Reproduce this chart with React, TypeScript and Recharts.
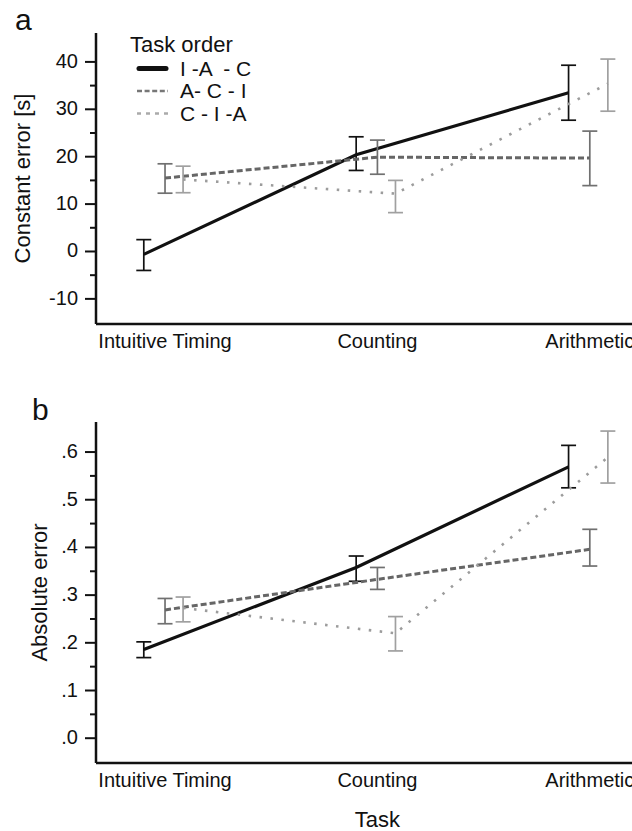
import React from "react";
import { LineChart, Line, XAxis, YAxis, ErrorBar, Legend, Label } from "recharts";

const tasks = ["Intuitive Timing", "Counting", "Arithmetic"];
const taskOrders = ["I -A  - C", "A- C - I", "C - I -A"];

// panel a: constant error [s], mean with lower / upper bar ends
const constIAC = [-0.6, 20.4, 33.5];
const constIACLo = [-4.0, 17.1, 27.7];
const constIACHi = [2.5, 24.2, 39.3];
const constACI = [15.5, 19.9, 19.7];
const constACILo = [12.3, 16.3, 13.9];
const constACIHi = [18.5, 23.5, 25.4];
const constCIA = [15.2, 12.2, 35.4];
const constCIALo = [12.4, 8.2, 29.6];
const constCIAHi = [18.0, 15.0, 40.6];

// panel b: absolute error
const absIAC = [0.186, 0.358, 0.569];
const absIACLo = [0.169, 0.329, 0.525];
const absIACHi = [0.202, 0.382, 0.614];
const absACI = [0.269, 0.333, 0.396];
const absACILo = [0.24, 0.312, 0.361];
const absACIHi = [0.293, 0.358, 0.438];
const absCIA = [0.273, 0.22, 0.589];
const absCIALo = [0.244, 0.183, 0.535];
const absCIAHi = [0.296, 0.255, 0.644];

const constTicks = [-10, -5, 0, 5, 10, 15, 20, 25, 30, 35, 40];
const absTicks = [0, 0.05, 0.1, 0.15, 0.2, 0.25, 0.3, 0.35, 0.4, 0.45, 0.5, 0.55, 0.6];

const seriesStyle = [
  { color: "#111", width: 3.2, dash: undefined as string | undefined, bar: "#111", dx: -0.1 },
  { color: "#666", width: 3, dash: "6 3", bar: "#707070", dx: 0 },
  { color: "#9c9c9c", width: 2.6, dash: "2.5 8.5", bar: "#a0a0a0", dx: 0.085 },
];

const X_DOMAIN: [number, number] = [-0.325, 2.5];

function makeRows(mean: number[], lo: number[], hi: number[], dx: number) {
  return mean.map((m, i) => ({ x: i + dx, y: m, err: [m - lo[i], hi[i] - m] }));
}

function makeYTick(major: number, fmt: (v: number) => string) {
  return (props: any) => {
    const { x, y, payload } = props;
    const v = payload.value;
    const isMajor = Math.abs(v / major - Math.round(v / major)) < 1e-6;
    return (
      <g>
        <line x1={x - (isMajor ? 11 : 6)} x2={x} y1={y} y2={y} stroke="#111" strokeWidth={2} />
        {isMajor ? (
          <text x={x - 18} y={y} dy="0.3em" textAnchor="end" fontSize={20} fill="#111">
            {fmt(v)}
          </text>
        ) : null}
      </g>
    );
  };
}

function LegendBox() {
  const rows = [0, 1, 2];
  return (
    <svg width={200} height={105}>
      <text x={10} y={27} fontSize={22} fill="#111">Task order</text>
      {rows.map((i) => {
        const s = seriesStyle[i];
        const ly = 43.5 + i * 22.5;
        return (
          <g key={i}>
            <line
              x1={i === 0 ? 19 : 17}
              x2={i === 0 ? 46 : 48}
              y1={ly}
              y2={ly}
              stroke={i === 0 ? "#111" : i === 1 ? "#777" : "#aaa"}
              strokeWidth={i === 0 ? 5 : 2.6}
              strokeLinecap={i === 0 ? "round" : "butt"}
              strokeDasharray={i === 0 ? undefined : i === 1 ? "5 2.6" : "4 5"}
            />
            <text x={60} y={ly + 7} fontSize={21} fill="#111" style={{ whiteSpace: "pre" }}>
              {taskOrders[i]}
            </text>
          </g>
        );
      })}
    </svg>
  );
}

interface PanelProps {
  height: number;
  top: number;
  xAxisHeight: number;
  yDomain: [number, number];
  yTicks: number[];
  yMajor: number;
  yFmt: (v: number) => string;
  yTitle: string;
  yTitleX: number;
  series: { mean: number[]; lo: number[]; hi: number[] }[];
  showLegend?: boolean;
  showTask?: boolean;
}

function Panel(p: PanelProps) {
  const renderTask = (lp: any) => {
    const vb = lp.viewBox;
    const cx = vb.x + ((1 - X_DOMAIN[0]) / (X_DOMAIN[1] - X_DOMAIN[0])) * vb.width;
    return (
      <text x={cx} y={vb.y + vb.height - 4} textAnchor="middle" fontSize={22} fill="#111">
        Task
      </text>
    );
  };
  return (
    <LineChart width={700} height={p.height} margin={{ top: p.top, right: 4, left: 0, bottom: 0 }}>
      <XAxis
        type="number"
        dataKey="x"
        domain={X_DOMAIN}
        ticks={[0, 1, 2]}
        interval={0}
        allowDataOverflow
        tickFormatter={(v: number) => tasks[v]}
        tickLine={false}
        tickSize={0}
        tickMargin={10}
        axisLine={{ stroke: "#111", strokeWidth: 2.5 }}
        tick={{ fontSize: 20, fill: "#111" }}
        height={p.xAxisHeight}
      >
        {p.showTask ? <Label position="insideBottom" content={renderTask} /> : null}
      </XAxis>
      <YAxis
        type="number"
        domain={p.yDomain}
        ticks={p.yTicks}
        interval={0}
        allowDataOverflow
        width={96}
        tickSize={0}
        tickMargin={0}
        tickLine={false}
        axisLine={{ stroke: "#111", strokeWidth: 2.5 }}
        tick={makeYTick(p.yMajor, p.yFmt)}
        label={{
          value: p.yTitle,
          angle: -90,
          position: "insideLeft",
          offset: p.yTitleX,
          style: { textAnchor: "middle", fontSize: 22, fill: "#111" },
        }}
      />
      {p.series.map((s, i) => {
        const st = seriesStyle[i];
        return (
          <Line
            key={i}
            data={makeRows(s.mean, s.lo, s.hi, st.dx)}
            dataKey="y"
            name={taskOrders[i]}
            type="linear"
            stroke={st.color}
            strokeWidth={st.width}
            strokeDasharray={st.dash}
            dot={false}
            activeDot={false}
            isAnimationActive={false}
          >
            <ErrorBar
              dataKey="err"
              direction="y"
              width={7.5}
              stroke={st.bar}
              strokeWidth={1.7}
              isAnimationActive={false}
            />
          </Line>
        );
      })}
      {p.showLegend ? (
        <Legend
          layout="vertical"
          align="center"
          verticalAlign="middle"
          content={() => <LegendBox />}
          wrapperStyle={{ left: 120, top: 25, width: 200, height: 105 }}
        />
      ) : null}
    </LineChart>
  );
}

export default function App() {
  return (
    <div
      style={{
        position: "absolute",
        left: 0,
        top: 0,
        width: 632,
        height: 831,
        overflow: "hidden",
        background: "#fff",
        fontFamily: "'Liberation Sans', Arial, sans-serif",
      }}
    >
      <div style={{ position: "absolute", left: 15, top: 0, fontSize: 30, lineHeight: "40px", color: "#111" }}>a</div>
      <div style={{ position: "absolute", left: 32, top: 390, fontSize: 30, lineHeight: "40px", color: "#111" }}>b</div>
      <Panel
        height={360}
        top={33}
        xAxisHeight={36}
        yDomain={[-15.3, 46.1]}
        yTicks={constTicks}
        yMajor={10}
        yFmt={(v) => String(v)}
        yTitle="Constant error [s]"
        yTitleX={22}
        series={[
          { mean: constIAC, lo: constIACLo, hi: constIACHi },
          { mean: constACI, lo: constACILo, hi: constACIHi },
          { mean: constCIA, lo: constCIALo, hi: constCIAHi },
        ]}
        showLegend
      />
      <Panel
        height={471}
        top={62}
        xAxisHeight={68}
        yDomain={[-0.052, 0.663]}
        yTicks={absTicks}
        yMajor={0.1}
        yFmt={(v) => v.toFixed(1).replace("0.", ".")}
        yTitle="Absolute error"
        yTitleX={39}
        series={[
          { mean: absIAC, lo: absIACLo, hi: absIACHi },
          { mean: absACI, lo: absACILo, hi: absACIHi },
          { mean: absCIA, lo: absCIALo, hi: absCIAHi },
        ]}
        showTask
      />
    </div>
  );
}
